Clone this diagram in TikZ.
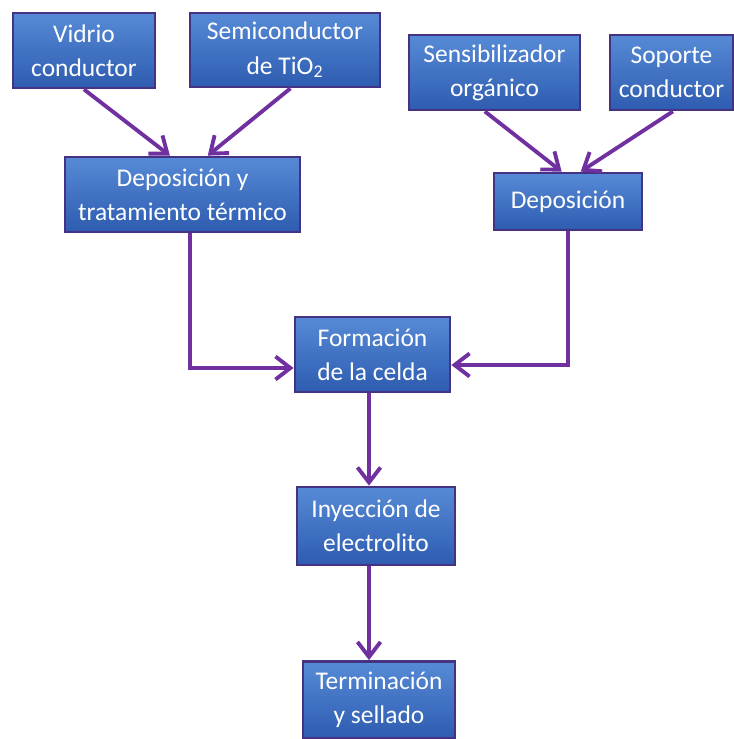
\documentclass[tikz,border=0pt]{standalone}
\usepackage{fontspec}
\setmainfont{Carlito}
\usepackage{tikz}
\usetikzlibrary{arrows.meta, calc}
\definecolor{boxtop}{RGB}{86,138,214}
\definecolor{boxbot}{RGB}{46,92,176}
\definecolor{boxline}{RGB}{70,50,130}
\definecolor{flowpurple}{RGB}{112,48,160}

\begin{document}
\begin{tikzpicture}[x=0.02cm, y=-0.02cm,
  stage/.style={draw=boxline, line width=1.6pt, top color=boxtop, bottom color=boxbot,
    text=white, align=center, inner sep=0pt,
    font=\fontsize{14.5}{19.5}\selectfont},
  flow/.style={draw=flowpurple, line width=2.2pt, -{Straight Barb[length=3mm,width=4.6mm]}}]

  \useasboundingbox (0,0) rectangle (733,739);

  % Top row: raw materials
  \node[stage, minimum width=2.84cm, minimum height=1.5cm] (vidrio) at (84,50.5) {Vidrio\\conductor};
  \node[stage, minimum width=3.8cm, minimum height=1.48cm] (semi) at (285,50) {Semiconductor\\de TiO\textsubscript{2}};
  \node[stage, minimum width=3.42cm, minimum height=1.5cm] (sensib) at (494.5,72.5) {Sensibilizador\\orgánico};
  \node[stage, minimum width=2.46cm, minimum height=1.5cm] (soporte) at (671.5,72.5) {Soporte\\conductor};

  % Second row
  \node[stage, minimum width=4.7cm, minimum height=1.5cm] (deptrat) at (182.5,194.5) {Deposición y\\tratamiento térmico};
  \node[stage, minimum width=2.96cm, minimum height=1.14cm] (depos) at (568,201.5) {Deposición};

  % Assembly chain
  \node[stage, minimum width=3.1cm, minimum height=1.5cm] (celda) at (372.5,354.5) {Formación\\de la celda};
  \node[stage, minimum width=3.16cm, minimum height=1.56cm] (inyec) at (376,526) {Inyección de\\electrolito};
  \node[stage, minimum width=3.04cm, minimum height=1.54cm] (termin) at (379,700) {Terminación\\y sellado};

  % Connectors
  \draw[flow] (vidrio.south) -- (deptrat.108);
  \draw[flow] (semi.-82) -- (deptrat.57);
  \draw[flow] (sensib.-104) -- (depos.102);
  \draw[flow] (soporte.-88) -- (depos.67);
  \draw[flow] ([xshift=0.15cm]deptrat.south) |- ([yshift=-0.27cm]celda.west);
  \draw[flow] (depos.south) |- ([yshift=-0.21cm]celda.east);
  \draw[flow] ([xshift=-0.07cm]celda.south) -- ([xshift=-0.07cm]celda.south |- inyec.north);
  \draw[flow] ([xshift=-0.07cm]celda.south |- inyec.south) -- ([xshift=-0.07cm]celda.south |- termin.north);

\end{tikzpicture}
\end{document}
